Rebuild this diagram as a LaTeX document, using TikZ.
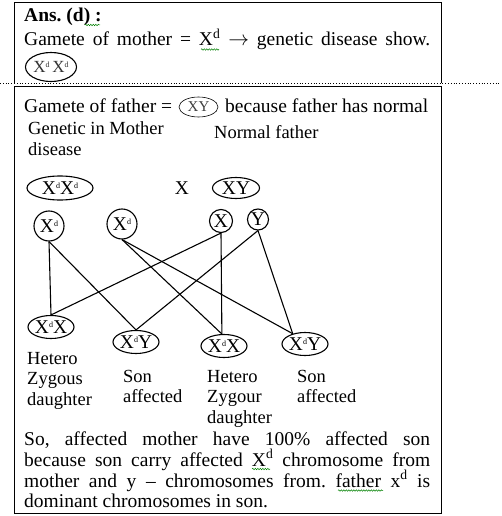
\documentclass[tikz,border=0pt]{standalone}
\usepackage{fontspec}
\setmainfont{Liberation Serif}
\usetikzlibrary{shapes.geometric,decorations.pathmorphing}
\newcommand\tinyd{\raisebox{0.62ex}{\fontsize{8}{8}\selectfont d}}
\frenchspacing
\tikzset{
 body/.style={font=\fontsize{19.5}{21}\selectfont, inner sep=0pt, anchor=base west},
 lbl/.style={font=\fontsize{18.5}{20.5}\selectfont, inner sep=0pt, anchor=base west},
 circ/.style={draw, circle, line width=1.1pt, inner sep=0pt, font=\fontsize{19.5}{21}\selectfont},
 ell/.style={draw, ellipse, line width=1.1pt, inner sep=0pt, font=\fontsize{19.5}{21}\selectfont},
 link/.style={line width=1.1pt},
 frame/.style={line width=1pt},
 squig/.style={draw=green!50!black, line width=0.5pt, decorate, decoration={snake, amplitude=0.7pt, segment length=2.5pt}},
}
\begin{document}
\begin{tikzpicture}[x=1pt,y=-1pt]
\useasboundingbox (0,0) rectangle (501,516);
% box 1
\draw[frame] (14,83) -- (14,3) -- (441,3) -- (441,83);
\draw[line width=0.8pt, dotted] (0,83.5) -- (501,83.5);
% box 2
\draw[frame] (14,87) rectangle (441,513.5);

\node[body, font={\fontsize{19.5}{21}\selectfont\bfseries}] (ans) at (24,22) {Ans. (d) :};
\node[body] (gm1) at (24,46) {\makebox[406pt][s]{Gamete of mother = X\textsuperscript{d} $\rightarrow$ genetic disease show.}};
\node[ell, minimum width=51pt, minimum height=29pt, text=black!80, font=\fontsize{17}{18}\selectfont] (mom0) at (51,67) {X\tinyd\,X\tinyd};

\node[body] (gf) at (24,113) {Gamete of father =};
\node[ell, line width=0.6pt, minimum width=39pt, minimum height=20pt, text=black!75, font=\fontsize{15}{17}\selectfont] (xy) at (198.5,107) {XY};
\node[body] (gf2) at (225,113) {because father has normal};
\node[lbl] (gm) at (28,135) {\parbox[t]{150pt}{\raggedright Genetic in Mother\\disease}};
\node[lbl] (nf) at (214,138) {Normal father};

% parents
\node[ell, minimum width=66pt, minimum height=24pt] (mom) at (60,188) {X\tinyd X\tinyd};
\node[body, anchor=center] (cross) at (182,188) {X};
\node[ell, minimum width=47pt, minimum height=21pt] (dad) at (236,188) {XY};
% gametes
\node[circ, minimum size=30pt] (g1) at (49,226) {X\tinyd};
\node[circ, minimum size=30pt] (g2) at (122,224) {X\tinyd};
\node[circ, minimum size=23pt] (g3) at (221,221) {X};
\node[circ, minimum size=21pt] (g4) at (258,219.5) {Y};
% children
\node[ell, minimum width=46pt, minimum height=23pt] (c1) at (51,327) {X\tinyd X};
\node[ell, minimum width=46pt, minimum height=23pt] (c2) at (136,342) {X\tinyd Y};
\node[ell, minimum width=46pt, minimum height=23pt] (c3) at (224,346) {X\tinyd X};
\node[ell, minimum width=46pt, minimum height=23pt] (c4) at (305,344) {X\tinyd Y};

\draw[link] (g1.south) -- (c1.north);
\draw[link] (g1.south) -- (c2.north);
\draw[link] (g2.south) -- (c3.100);
\draw[link] (g2.south) -- (c4.140);
\draw[link] (g3.south) -- (c1.north);
\draw[link] (g3.south) -- (c3.100);
\draw[link] (g4.south) -- (c2.north);
\draw[link] (g4.south) -- (c4.140);

% labels
\node[lbl] (l1) at (27,364) {\parbox[t]{90pt}{\raggedright Hetero\\Zygous\\daughter}};
\node[lbl] (l2) at (123,382) {\parbox[t]{90pt}{\raggedright Son\\affected}};
\node[lbl] (l3) at (207,382) {\parbox[t]{90pt}{\raggedright Hetero\\Zygour\\daughter}};
\node[lbl] (l4) at (297,382) {\parbox[t]{90pt}{\raggedright Son\\affected}};

% paragraph
\node[body] (p1) at (24,445) {\makebox[406pt][s]{So, affected mother have 100\% affected son}};
\node[body] (p2) at (24,466) {\makebox[406pt][s]{because son carry affected X\textsuperscript{d} chromosome from}};
\node[body] (p3) at (24,487) {\makebox[406pt][s]{mother and y -- chromosomes from. father x\textsuperscript{d} is}};
\node[body] (p4) at (24,507) {dominant chromosomes in son.};

% spell-check squiggles
\draw[squig] (85,25) -- (100,25);
\draw[squig] (201,49.5) -- (219,49.5);
\draw[squig] (252,469) -- (270,469);
\draw[squig] (338,490.5) -- (383,490.5);
\end{tikzpicture}
\end{document}
